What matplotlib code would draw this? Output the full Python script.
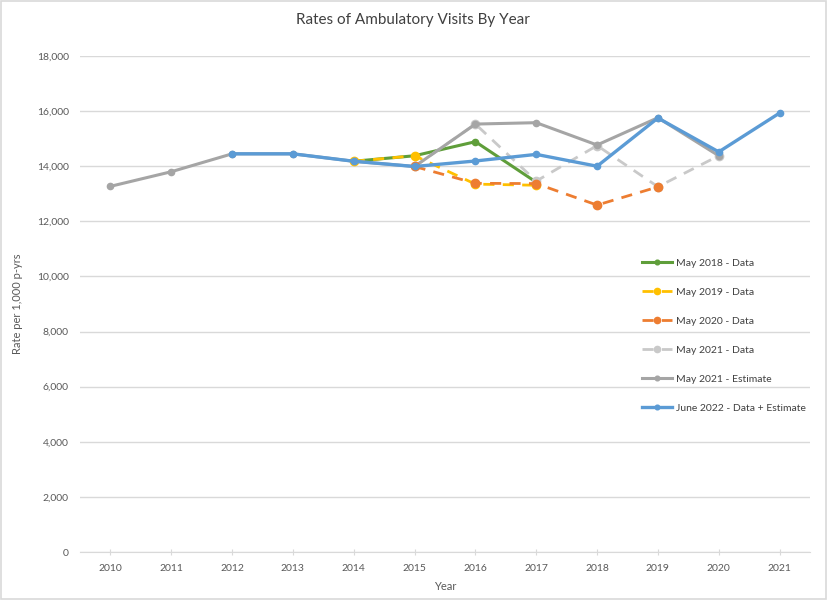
import numpy as np
import matplotlib.pyplot as plt
from matplotlib.patches import Rectangle
from matplotlib.ticker import FuncFormatter

plt.rcParams['font.family'] = ['Lato', 'DejaVu Sans']

years_green = [2014, 2015, 2016, 2017]
green = [14180, 14380, 14890, 13420]

years_yellow = [2014, 2015, 2016, 2017]
yellow = [14180, 14380, 13350, 13310]

years_orange = [2015, 2016, 2017, 2018, 2019]
orange = [13990, 13380, 13370, 12590, 13250]

years_lgray = [2015, 2016, 2017, 2018, 2019, 2020]
lgray = [13990, 15530, 13460, 14750, 13255, 14380]

years_gray = list(range(2010, 2021))
gray = [13270, 13800, 14450, 14450, 14180, 13990, 15530, 15580, 14770, 15760, 14380]

years_blue = list(range(2012, 2022))
blue = [14450, 14450, 14180, 13990, 14190, 14430, 14000, 15750, 14520, 15930]

fig = plt.figure(figsize=(8.28, 6), dpi=100)
ax = fig.add_axes([80/828, 48/600, 730/828, 496/600])

ax.plot(years_gray, gray, color='#A5A5A5', lw=2.2, marker='o', ms=4.5, zorder=3.36, label='May 2021 - Estimate')
ax.plot(years_lgray, lgray, color='#C9C9C9', lw=2.0, ls=(0, (4, 3)), marker='o', ms=6, zorder=3.35, label='May 2021 - Data')
ax.plot(years_green, green, color='#5F9E3A', lw=2.2, marker='o', ms=4.5, zorder=3.2, label='May 2018 - Data')
ax.plot(years_yellow, yellow, color='#FFC000', lw=2.0, ls=(0, (4, 3)), marker='o', ms=6, zorder=3.3, label='May 2019 - Data')
ax.plot(years_orange, orange, color='#ED7D31', lw=2.0, ls=(0, (4, 3)), marker='o', ms=6, zorder=3.4, label='May 2020 - Data')
ax.plot(years_blue, blue, color='#5B9BD5', lw=2.4, marker='o', ms=4.5, zorder=4, label='June 2022 - Data + Estimate')

ax.set_xlim(2009.5, 2021.5)
ax.set_ylim(0, 18000)
ax.set_xticks(range(2010, 2022))
ax.set_yticks(range(0, 18001, 2000))
ax.yaxis.set_major_formatter(FuncFormatter(lambda v, p: f'{int(v):,}'))
ax.grid(axis='y', color='#D9D9D9', lw=1)
ax.set_axisbelow(True)
for s in ['top', 'right', 'left']:
    ax.spines[s].set_visible(False)
ax.spines['bottom'].set_color('#D9D9D9')
ax.tick_params(axis='x', direction='inout', length=5, color='#D9D9D9', labelsize=7.5, labelcolor='#595959', pad=6)
ax.tick_params(axis='y', length=0, labelsize=7.5, labelcolor='#595959', pad=8)
ax.set_xlabel('Year', fontsize=8, color='#595959', labelpad=6)
ax.set_ylabel('Rate per 1,000 p-yrs', fontsize=8, color='#595959', labelpad=10)
fig.text(413/828, 1 - 20/600, 'Rates of Ambulatory Visits By Year', ha='center', va='center',
         fontsize=11, color='#404040')

handles, labels = ax.get_legend_handles_labels()
order = ['May 2018 - Data', 'May 2019 - Data', 'May 2020 - Data', 'May 2021 - Data',
         'May 2021 - Estimate', 'June 2022 - Data + Estimate']
hmap = dict(zip(labels, handles))
leg = ax.legend([hmap[k] for k in order], order, loc='upper left', bbox_to_anchor=(633/828, 1 - 249/600),
                bbox_transform=fig.transFigure, frameon=False, fontsize=7.5, labelspacing=1.9,
                handlelength=2.8, handletextpad=0.4, markerscale=0.75)
for t in leg.get_texts():
    t.set_color('#404040')

fig.add_artist(Rectangle((0.001, 0.002), 0.997, 0.996, transform=fig.transFigure,
                         fill=False, edgecolor='#D9D9D9', lw=1.2))

fig.savefig('out.png', dpi=100)
